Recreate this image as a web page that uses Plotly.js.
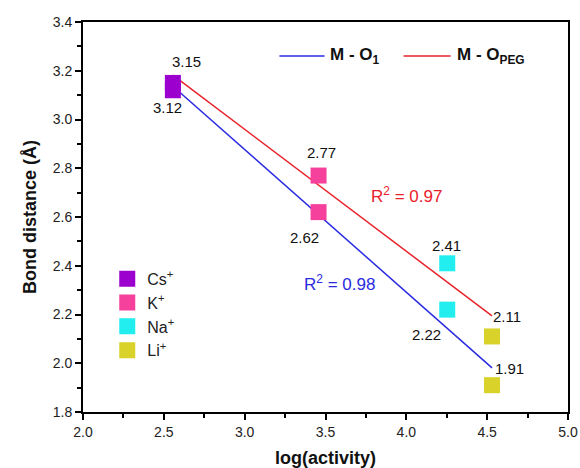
<!DOCTYPE html>
<html>
<head>
<meta charset="utf-8">
<script src="https://cdn.plot.ly/plotly-3.0.1.min.js"></script>
<style>html,body{margin:0;padding:0;background:#fff;}#chart{width:580px;height:468px;}</style>
</head>
<body>
<div id="chart"></div>
<script>
// Data
var cations = ['Cs<sup>+</sup>', 'K<sup>+</sup>', 'Na<sup>+</sup>', 'Li<sup>+</sup>'];
var logActivity = [2.556, 3.457, 4.253, 4.530];
var distMO1 = [3.12, 2.62, 2.22, 1.91];
var distMOPEG = [3.15, 2.77, 2.41, 2.11];
var cationColors = ['#9b00cf', '#f5409c', '#22eef0', '#d8d22a'];
var fitNames = ['<b>M - O<sub>1</sub></b>', '<b>M - O<sub>PEG</sub></b>'];
var fitColors = ['#2a2ae0', '#e8222a'];
var r2Labels = ['R<sup>2</sup> = 0.98', 'R<sup>2</sup> = 0.97'];

function linfit(x, y) {
  var n = x.length, mx = 0, my = 0;
  for (var i = 0; i < n; i++) { mx += x[i]; my += y[i]; }
  mx /= n; my /= n;
  var sxy = 0, sxx = 0;
  for (var i = 0; i < n; i++) { sxy += (x[i]-mx)*(y[i]-my); sxx += (x[i]-mx)*(x[i]-mx); }
  var b = sxy / sxx, a = my - b*mx;
  var x0 = Math.min.apply(null, x), x1 = Math.max.apply(null, x);
  return {x: [x0, x1], y: [a + b*x0, a + b*x1]};
}

var FONT = 'Arial, Liberation Sans, sans-serif';
var traces = [];
var series = [distMO1, distMOPEG];
series.forEach(function (ys, k) {
  var f = linfit(logActivity, ys);
  traces.push({
    type: 'scatter', mode: 'lines', x: f.x, y: f.y, name: fitNames[k],
    line: {color: fitColors[k], width: 1.5}, showlegend: false, hoverinfo: 'skip'
  });
});
cations.forEach(function (c, i) {
  traces.push({
    type: 'scatter', mode: 'markers', x: [logActivity[i], logActivity[i]],
    y: [distMO1[i], distMOPEG[i]], name: c,
    marker: {symbol: 'square', size: 16, color: cationColors[i]}
  });
});

// value labels (positions in data space)
var labelPos = [
  [2.525, 3.051, distMO1[0]], [2.642, 3.236, distMOPEG[0]],
  [3.370, 2.514, distMO1[1]], [3.475, 2.863, distMOPEG[1]],
  [4.123, 2.116, distMO1[2]], [4.247, 2.485, distMOPEG[2]],
  [4.636, 1.980, distMO1[3]], [4.623, 2.190, distMOPEG[3]]
];
var annotations = labelPos.map(function (p) {
  return {x: p[0], y: p[1], xref: 'x', yref: 'y', text: p[2].toFixed(2), showarrow: false,
          font: {family: FONT, size: 15, color: '#111'}};
});
annotations.push({x: 3.586, y: 2.33, xref: 'x', yref: 'y', text: r2Labels[0], showarrow: false,
  font: {family: FONT, size: 17, color: fitColors[0]}});
annotations.push({x: 4.0, y: 2.69, xref: 'x', yref: 'y', text: r2Labels[1], showarrow: false,
  font: {family: FONT, size: 17, color: fitColors[1]}});

// line legend (top), drawn as shapes + text
var shapes = [];
var legPaper = [[0.405, 0.498], [0.661, 0.758]];
legPaper.forEach(function (p, k) {
  shapes.push({type: 'line', xref: 'paper', yref: 'paper', x0: p[0], x1: p[1], y0: 0.913, y1: 0.913,
               line: {color: fitColors[k], width: 1.5}});
  annotations.push({xref: 'paper', yref: 'paper', x: p[1] + 0.008, y: 0.913, xanchor: 'left', yanchor: 'middle',
    text: fitNames[k], showarrow: false, font: {family: FONT, size: 17, color: '#111'}});
});

var axisCommon = {
  showline: true, linecolor: '#000', linewidth: 2, mirror: true, showgrid: false, zeroline: false,
  automargin: false,
  ticks: 'outside', ticklen: 6, tickwidth: 2, tickcolor: '#000',
  tickfont: {family: FONT, size: 14, color: '#222'},
  minor: {ticks: 'outside', ticklen: 4, tickwidth: 2, tickcolor: '#000'}
};

var layout = {
  width: 580, height: 468,
  margin: {l: 83, r: 12, t: 22, b: 56},
  paper_bgcolor: '#fff', plot_bgcolor: '#fff',
  xaxis: Object.assign({}, axisCommon, {
    range: [2.0, 5.0], dtick: 0.5, tickformat: '.1f', minor: Object.assign({}, axisCommon.minor, {dtick: 0.25}),
    title: {text: '<b>log(activity)</b>', font: {family: FONT, size: 18, color: '#111'}}
  }),
  yaxis: Object.assign({}, axisCommon, {
    range: [1.8, 3.4], dtick: 0.2, tickformat: '.1f', minor: Object.assign({}, axisCommon.minor, {dtick: 0.1}),
    title: {text: '<b>Bond distance (Å)</b>', font: {family: FONT, size: 18, color: '#111'}}
  }),
  legend: {
    x: 0.05, y: 0.385, xanchor: 'left', yanchor: 'top', bgcolor: 'rgba(0,0,0,0)',
    font: {family: FONT, size: 16, color: '#222'}, tracegroupgap: 0, itemwidth: 30
  },
  shapes: shapes,
  annotations: annotations,
  showlegend: true
};

Plotly.newPlot('chart', traces, layout, {displayModeBar: false, staticPlot: true});
</script>
</body>
</html>
